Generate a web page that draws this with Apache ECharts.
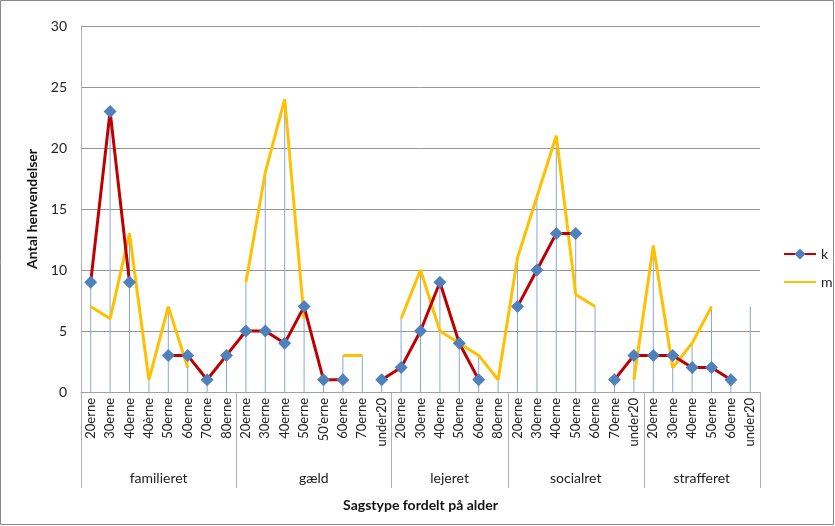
<!DOCTYPE html>
<html>
<head>
<meta charset="utf-8">
<script src="https://cdn.jsdelivr.net/npm/echarts@6/dist/echarts.min.js"></script>
<style>
html,body{margin:0;padding:0;background:#fff;}
#main{width:835px;height:526px;}
</style>
</head>
<body>
<div id="main"></div>
<script>
const categories = [
  '20erne','30erne','40erne','40èrne','50erne','60erne','70erne','80erne',
  '20erne','30erne','40erne','50erne',"50'erne",'60erne','70erne','under20',
  '20erne','30erne','40erne','50erne','60erne','80erne',
  '20erne','30erne','40erne','50erne','60erne','70erne','under20',
  '20erne','30erne','40erne','50erne','60erne','under20'
];
const groups = ['familieret','gæld','lejeret','socialret','strafferet'];
const groupSizes = [8,8,6,7,6];
const kValues = [9,23,9,null,3,3,1,3, 5,5,4,7,1,1,null,1, 2,5,9,4,1,null, 7,10,13,13,null,1,3, 3,3,2,2,1,null];
const mValues = [7,6,13,1,7,2,null,null, 9,18,24,6,null,3,3,null, 6,10,5,4,3,1, 11,16,21,8,7,null,1, 12,2,4,7,null,7];
const yTicks = {min:0, max:30, interval:5};

const dropValues = kValues.map((k,i)=>{
  const m = mValues[i];
  if (k==null && m==null) return null;
  return Math.max(k==null?-Infinity:k, m==null?-Infinity:m);
});

const FONT = 'Lato';
const chart = echarts.init(document.getElementById('main'));
chart.setOption({
  animation:false,
  grid:{left:81, right:75, top:26, bottom:134},
  legend:{
    data:[{name:'k'},{name:'m', itemStyle:{opacity:0}}],
    orient:'vertical', left:783, top:247, padding:0,
    itemWidth:32, itemHeight:14, itemGap:14,
    textStyle:{fontFamily:FONT, fontSize:14, color:'#222'}
  },
  xAxis:{
    type:'category', data:categories, boundaryGap:true,
    axisLine:{lineStyle:{color:'#a0a0a0'}},
    axisTick:{show:false},
    axisLabel:{rotate:90, interval:0, margin:6, fontFamily:FONT, fontSize:13, color:'#222'},
    name:'Sagstype fordelt på alder', nameLocation:'middle', nameGap:106,
    nameTextStyle:{fontFamily:FONT, fontSize:14, fontWeight:'bold', color:'#111'}
  },
  yAxis:{
    type:'value', min:yTicks.min, max:yTicks.max, interval:yTicks.interval,
    axisLine:{show:true, lineStyle:{color:'#b0b0b0'}},
    axisTick:{show:false},
    splitLine:{lineStyle:{color:'#969696'}},
    axisLabel:{fontFamily:FONT, fontSize:14, color:'#222', margin:14},
    name:'Antal henvendelser', nameLocation:'middle', nameGap:39, nameRotate:90,
    nameTextStyle:{fontFamily:FONT, fontSize:14, fontWeight:'bold', color:'#111'}
  },
  series:[
    {name:'drop', type:'bar', data:dropValues, barWidth:1, z:1,
     itemStyle:{color:'#86a8d8'}, silent:true},
    {name:'k', type:'line', data:kValues, z:3, connectNulls:false,
     symbol:'diamond', symbolSize:[13,13],
     lineStyle:{color:'#C00000', width:3},
     itemStyle:{color:'#4F81BD'}},
    {name:'m', type:'line', data:mValues, z:2, connectNulls:false,
     symbol:'none', showSymbol:false,
     lineStyle:{color:'#FFC000', width:3},
     itemStyle:{color:'#FFC000'}}
  ]
});

// second-level group labels and separators
const c0 = chart.convertToPixel({xAxisIndex:0}, 0);
const c1 = chart.convertToPixel({xAxisIndex:0}, 1);
const half = (c1 - c0)/2;
const yAxisPix = chart.convertToPixel({yAxisIndex:0}, 0);
const boundX = b => b < categories.length
  ? chart.convertToPixel({xAxisIndex:0}, b) - half
  : chart.convertToPixel({xAxisIndex:0}, categories.length-1) + half;
const graphics = [];
let start = 0;
const bounds = [0];
groupSizes.forEach(s=>{start += s; bounds.push(start);});
bounds.forEach(b=>{
  const x = Math.round(boundX(b)) + 0.5;
  graphics.push({type:'line', shape:{x1:x, y1:yAxisPix, x2:x, y2:488},
    style:{stroke:'#b0b0b0', lineWidth:1}, silent:true});
});
groups.forEach((g,i)=>{
  const xl = boundX(bounds[i]), xr = boundX(bounds[i+1]);
  graphics.push({type:'text', x:(xl+xr)/2, y:478,
    style:{text:g, fontFamily:FONT, fontSize:14, fill:'#222', align:'center', verticalAlign:'middle'}, silent:true});
});
graphics.push({type:'rect', shape:{x:0.5, y:0.5, width:833, height:524},
  style:{fill:'none', stroke:'#8a8a8a', lineWidth:1}, silent:true});
chart.setOption({graphic:graphics});
</script>
</body>
</html>
